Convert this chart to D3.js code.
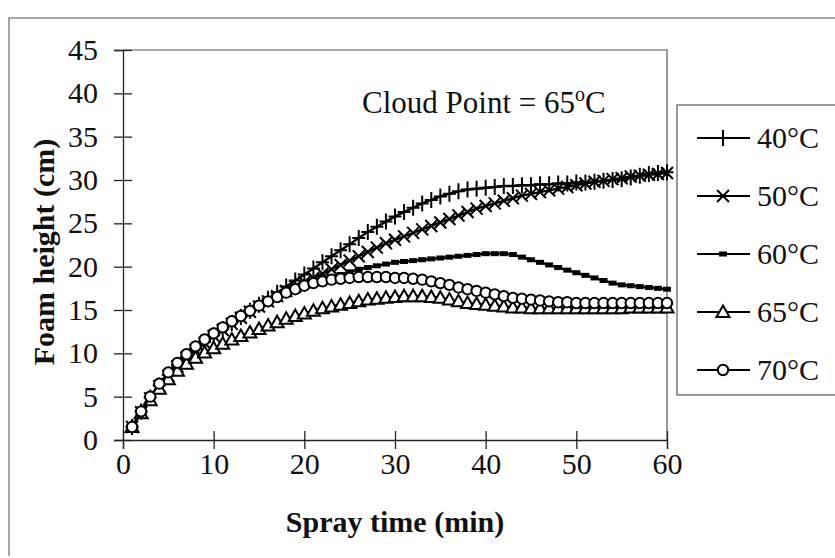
<!DOCTYPE html>
<html><head><meta charset="utf-8">
<script src="https://cdn.jsdelivr.net/npm/d3@7"></script>
<style>
html,body{margin:0;padding:0;background:#fff;}
svg{display:block;font-family:"Liberation Serif","Times New Roman",serif;}
</style></head>
<body>
<svg id="chart" width="835" height="558"></svg>
<script>
const minutes = d3.range(1, 61);
const s40 = [1.5,3.3,4.9,6.3,7.5,8.6,9.6,10.5,11.3,12.1,12.8,13.5,14.2,14.9,15.6,16.3,17.0,17.7,18.4,19.1,19.8,20.5,21.2,21.9,22.6,23.3,24.0,24.6,25.2,25.8,26.3,26.8,27.3,27.7,28.1,28.4,28.7,28.9,29.0,29.1,29.2,29.3,29.3,29.4,29.4,29.5,29.5,29.6,29.6,29.7,29.7,29.8,29.9,30.0,30.1,30.3,30.5,30.7,30.8,30.9];
const s50 = [1.5,3.2,4.8,6.2,7.4,8.5,9.5,10.4,11.2,12.0,12.7,13.4,14.1,14.8,15.4,16.0,16.6,17.2,17.7,18.2,18.7,19.2,19.7,20.2,20.7,21.2,21.7,22.2,22.7,23.1,23.5,23.9,24.3,24.7,25.1,25.5,25.9,26.3,26.7,27.0,27.3,27.6,27.9,28.2,28.4,28.6,28.8,29.0,29.2,29.4,29.6,29.8,29.9,30.1,30.2,30.4,30.5,30.6,30.7,30.8];
const s60 = [1.5,3.3,4.9,6.3,7.5,8.6,9.6,10.5,11.3,12.0,12.7,13.4,14.0,14.6,15.2,15.8,16.3,16.8,17.3,17.7,18.1,18.5,18.8,19.1,19.4,19.7,19.9,20.1,20.3,20.5,20.6,20.7,20.8,20.9,21.0,21.1,21.2,21.3,21.4,21.5,21.5,21.5,21.4,21.1,20.8,20.5,20.2,19.9,19.6,19.3,19.0,18.7,18.4,18.1,17.9,17.8,17.7,17.6,17.5,17.4];
const s65 = [1.5,3.1,4.6,5.9,7.0,8.0,8.8,9.5,10.1,10.6,11.1,11.6,12.0,12.4,12.8,13.2,13.6,14.0,14.3,14.6,14.9,15.2,15.4,15.6,15.8,16.0,16.2,16.3,16.4,16.5,16.6,16.6,16.6,16.5,16.4,16.2,16.0,15.8,15.7,15.6,15.5,15.4,15.3,15.3,15.2,15.2,15.2,15.2,15.2,15.2,15.2,15.2,15.2,15.2,15.2,15.3,15.3,15.3,15.3,15.3];
const s70 = [1.5,3.3,5.0,6.5,7.8,8.9,9.9,10.8,11.6,12.3,13.0,13.7,14.3,14.9,15.5,16.0,16.5,17.0,17.4,17.8,18.1,18.3,18.5,18.6,18.7,18.8,18.8,18.8,18.8,18.7,18.7,18.6,18.5,18.3,18.1,17.9,17.6,17.4,17.2,17.0,16.8,16.6,16.4,16.3,16.2,16.1,16.0,15.9,15.9,15.8,15.8,15.8,15.8,15.8,15.8,15.8,15.8,15.8,15.8,15.8];
const seriesNames = ["40°C","50°C","60°C","65°C","70°C"];
const seriesMarkers = ["plus","cross","dash","triangle","circle"];
const xTicks = [0,10,20,30,40,50,60];
const yTicks = [0,5,10,15,20,25,30,35,40,45];
const seriesValues = [s40, s50, s60, s65, s70];

const svg = d3.select("#chart");
const L = 123, R = 667, T = 50, B = 440;
const x = d3.scaleLinear().domain([0,60]).range([L,R]);
const y = d3.scaleLinear().domain([0,45]).range([B,T]);

// outer frame
svg.append("path").attr("d","M9,556 L9,18 L835,18").attr("fill","none").attr("stroke","#888").attr("stroke-width",1.5);

// plot frame (top/right)
svg.append("path").attr("d",`M${L},${T} L${R},${T} L${R},${B}`).attr("fill","none").attr("stroke","#555").attr("stroke-width",1.2);

// axes
const gx = svg.append("g").attr("transform",`translate(0,${B})`)
  .call(d3.axisBottom(x).tickValues(xTicks).tickSize(9).tickPadding(4).tickFormat(d3.format("d")));
gx.selectAll(".tick line").attr("y1",-9);
const gy = svg.append("g").attr("transform",`translate(${L},0)`)
  .call(d3.axisLeft(y).tickValues(yTicks).tickSize(9).tickPadding(16).tickFormat(d3.format("d")));
gy.selectAll(".tick line").attr("x1",9);
[gx,gy].forEach(g=>{
  g.select(".domain").attr("stroke","#222").attr("stroke-width",1.3);
  g.selectAll(".tick line").attr("stroke","#222").attr("stroke-width",1.3);
  g.selectAll(".tick text").attr("font-size",30).attr("fill","#111").attr("font-family","Liberation Serif");
});

// axis titles
svg.append("text").attr("x",395).attr("y",532).attr("text-anchor","middle")
  .attr("font-size",30).attr("font-weight","bold").attr("fill","#111").text("Spray time (min)");
svg.append("text").attr("transform","translate(54,252) rotate(-90)").attr("text-anchor","middle")
  .attr("font-size",30).attr("font-weight","bold").attr("fill","#111").text("Foam height (cm)");

// annotation
const ann = svg.append("text").attr("x",362).attr("y",113).attr("font-size",31).attr("fill","#111");
ann.append("tspan").text("Cloud Point = 65");
ann.append("tspan").attr("font-size",20).attr("dy",-12).text("o");
ann.append("tspan").attr("dy",12).text("C");

function drawMarker(g, type){
  const sw = 2;
  if(type==="plus"){
    g.append("path").attr("d","M-6.5,0 L6.5,0 M0,-8 L0,8").attr("stroke","#000").attr("stroke-width",sw).attr("fill","none");
  } else if(type==="cross"){
    g.append("path").attr("d","M-6,-6 L6,6 M-6,6 L6,-6").attr("stroke","#000").attr("stroke-width",sw).attr("fill","none");
  } else if(type==="dash"){
    g.append("rect").attr("x",-4).attr("y",-2.5).attr("width",8).attr("height",5).attr("fill","#000");
  } else if(type==="triangle"){
    g.append("path").attr("d","M0,-6.5 L6.5,5 L-6.5,5 Z").attr("stroke","#000").attr("stroke-width",sw).attr("fill","#fff");
  } else if(type==="circle"){
    g.append("circle").attr("r",5.2).attr("stroke","#000").attr("stroke-width",sw).attr("fill","#fff");
  }
}

const line = d3.line().x(d=>x(d[0])).y(d=>y(d[1]));
seriesValues.forEach((vals,i)=>{
  const pts = minutes.map((m,j)=>[m, vals[j]]);
  const g = svg.append("g");
  g.append("path").datum(pts).attr("d",line).attr("fill","none").attr("stroke","#000").attr("stroke-width",2.4);
  pts.forEach(p=>{
    const mg = g.append("g").attr("transform",`translate(${x(p[0])},${y(p[1])})`);
    drawMarker(mg, seriesMarkers[i]);
  });
});

// legend
svg.append("rect").attr("x",677).attr("y",105).attr("width",160).attr("height",290)
  .attr("fill","#fff").attr("stroke","#555").attr("stroke-width",1.2);
const legY = d3.scalePoint().domain(seriesNames).range([138,370]);
seriesNames.forEach((n,i)=>{
  const yy = legY(n);
  svg.append("line").attr("x1",697).attr("x2",750).attr("y1",yy).attr("y2",yy).attr("stroke","#000").attr("stroke-width",2);
  drawMarker(svg.append("g").attr("transform",`translate(723,${yy})`), seriesMarkers[i]);
  svg.append("text").attr("x",757).attr("y",yy+10).attr("font-size",30).attr("fill","#111").text(n);
});
</script>
</body></html>
